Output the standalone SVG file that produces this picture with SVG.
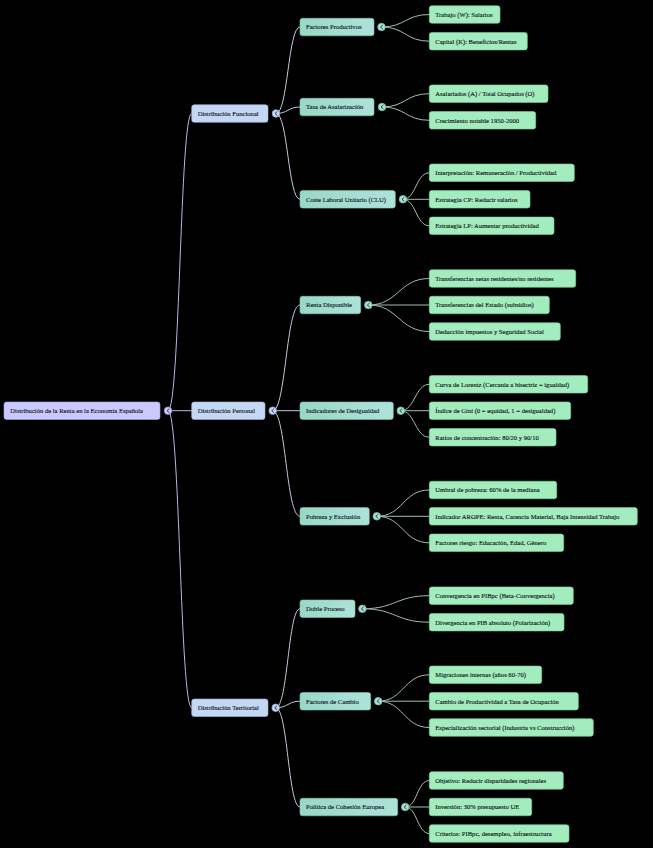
<svg xmlns="http://www.w3.org/2000/svg" width="653" height="848" viewBox="0 0 653 848">
<defs>
<linearGradient id="g2" x1="0" y1="0" x2="1" y2="0">
<stop offset="0" stop-color="#98d8c6"/>
<stop offset="1" stop-color="#aee2da"/>
</linearGradient>
<style>
text{font-family:"Liberation Serif","Times New Roman",serif;font-size:6.6px;fill:#111118;stroke:#111118;stroke-width:0.12}
.root rect{fill:#c9c9ff;stroke:#a6a6e6;stroke-width:0.6}
.l1 rect{fill:#c4d8f4;stroke:#9fb8dc;stroke-width:0.6}
.l2 rect{fill:url(#g2);stroke:#7cc4b2;stroke-width:0.6}
.leaf rect{fill:#a2ecbe;stroke:#7ed2a0;stroke-width:0.6}
.tg circle{stroke-width:0.8}
.root .tg circle{fill:#c9c9ff;stroke:#8f8fd0}
.l1 .tg circle{fill:#c4d8f4;stroke:#8aa6d0}
.l2 .tg circle{fill:#a8e0d4;stroke:#6fb8a6}
.tg path{fill:none;stroke:#2a2a3a;stroke-width:0.9;stroke-linecap:round;stroke-linejoin:round}
.e0{fill:none;stroke:#b6b9e4;stroke-width:1}
.e1{fill:none;stroke:#c3c8dc;stroke-width:1}
.e2{fill:none;stroke:#a2bdad;stroke-width:1}
</style>
</defs>
<rect x="0" y="0" width="653" height="848" fill="#000"/>

<g id="connectors">
<path class="e0" d="M168,410.7 C180,410.7 180,113.5 191.7,113.5"/>
<path class="e0" d="M168,410.7 L191.7,410.7"/>
<path class="e0" d="M168,410.7 C180,410.7 180,707.8 191.7,707.8"/>
<path class="e1" d="M276,113.5 C288,113.5 288,27 300,27"/>
<path class="e1" d="M276,113.5 C288,113.5 288,107 300,107"/>
<path class="e1" d="M276,113.5 C288,113.5 288,199.3 300,199.3"/>
<path class="e1" d="M272.7,410.7 C286,410.7 286,305 300,305"/>
<path class="e1" d="M272.7,410.7 L300,410.7"/>
<path class="e1" d="M272.7,410.7 C286,410.7 286,516.3 300,516.3"/>
<path class="e1" d="M275.7,707.8 C288,707.8 288,608.8 300,608.8"/>
<path class="e1" d="M275.7,707.8 C288,707.8 288,701.2 300,701.2"/>
<path class="e1" d="M275.7,707.8 C288,707.8 288,807 300,807"/>
<path class="e2" d="M381.5,27 C405.4,27 405.4,14.5 429.3,14.5"/>
<path class="e2" d="M381.5,27 C405.4,27 405.4,41.2 429.3,41.2"/>
<path class="e2" d="M382,107 C405.6,107 405.6,93.7 429.3,93.7"/>
<path class="e2" d="M382,107 C405.6,107 405.6,120.3 429.3,120.3"/>
<path class="e2" d="M403,199.3 C416,199.3 416,172.8 429.3,172.8"/>
<path class="e2" d="M403,199.3 L429.3,199.3"/>
<path class="e2" d="M403,199.3 C416,199.3 416,225.8 429.3,225.8"/>
<path class="e2" d="M368.3,305 C398.8,305 398.8,278.5 429.3,278.5"/>
<path class="e2" d="M368.3,305 L429.3,305"/>
<path class="e2" d="M368.3,305 C398.8,305 398.8,331.5 429.3,331.5"/>
<path class="e2" d="M400.8,410.7 C415,410.7 415,384.3 429.3,384.3"/>
<path class="e2" d="M400.8,410.7 L429.3,410.7"/>
<path class="e2" d="M400.8,410.7 C415,410.7 415,437.2 429.3,437.2"/>
<path class="e2" d="M376.8,516.3 C403,516.3 403,490 429.3,490"/>
<path class="e2" d="M376.8,516.3 L429.3,516.3"/>
<path class="e2" d="M376.8,516.3 C403,516.3 403,542.8 429.3,542.8"/>
<path class="e2" d="M362.4,608.8 C395.8,608.8 395.8,595.7 429.3,595.7"/>
<path class="e2" d="M362.4,608.8 C395.8,608.8 395.8,622.2 429.3,622.2"/>
<path class="e2" d="M378.2,701.2 C403.7,701.2 403.7,674.8 429.3,674.8"/>
<path class="e2" d="M378.2,701.2 L429.3,701.2"/>
<path class="e2" d="M378.2,701.2 C403.7,701.2 403.7,727.5 429.3,727.5"/>
<path class="e2" d="M405.2,807 C417.2,807 417.2,780.5 429.3,780.5"/>
<path class="e2" d="M405.2,807 L429.3,807"/>
<path class="e2" d="M405.2,807 C417.2,807 417.2,833.5 429.3,833.5"/>
</g>

<g id="root" class="root">
<rect x="4" y="402" width="156" height="17.5" rx="2.5"/>
<text x="10.3" y="413">Distribución de la Renta en la Economía Española</text>
<g class="tg"><circle cx="168" cy="410.7" r="3.8"/><path d="M169,409 L167,410.7 L169,412.4"/></g>
</g>

<g id="dist-funcional" class="l1">
<rect x="191.7" y="104.8" width="76.3" height="17.5" rx="2.5"/>
<text x="197.7" y="115.8">Distribución Funcional</text>
<g class="tg"><circle cx="276" cy="113.5" r="3.8"/><path d="M277,111.8 L275,113.5 L277,115.2"/></g>
</g>
<g id="dist-personal" class="l1">
<rect x="191.7" y="402" width="73.3" height="17.5" rx="2.5"/>
<text x="197.7" y="413">Distribución Personal</text>
<g class="tg"><circle cx="272.7" cy="410.7" r="3.8"/><path d="M273.7,409 L271.7,410.7 L273.7,412.4"/></g>
</g>
<g id="dist-territorial" class="l1">
<rect x="191.7" y="699" width="76.3" height="17.5" rx="2.5"/>
<text x="197.7" y="710.1">Distribución Territorial</text>
<g class="tg"><circle cx="275.7" cy="707.8" r="3.8"/><path d="M276.7,706.1 L274.7,707.8 L276.7,709.5"/></g>
</g>

<g id="factores-productivos" class="l2">
<rect x="300" y="18.3" width="74" height="17.5" rx="2.5"/>
<text x="306" y="29.3">Factores Productivos</text>
<g class="tg"><circle cx="381.5" cy="27" r="3.8"/><path d="M382.5,25.3 L380.5,27 L382.5,28.7"/></g>
</g>
<g id="tasa-asalarizacion" class="l2">
<rect x="300" y="98.3" width="74" height="17.5" rx="2.5"/>
<text x="306" y="109.3">Tasa de Asalarización</text>
<g class="tg"><circle cx="382" cy="107" r="3.8"/><path d="M383,105.3 L381,107 L383,108.7"/></g>
</g>
<g id="clu" class="l2">
<rect x="300" y="190.6" width="95.3" height="17.5" rx="2.5"/>
<text x="306" y="201.6">Coste Laboral Unitario (CLU)</text>
<g class="tg"><circle cx="403" cy="199.3" r="3.8"/><path d="M404,197.6 L402,199.3 L404,201"/></g>
</g>
<g id="renta-disponible" class="l2">
<rect x="300" y="296.3" width="60.7" height="17.5" rx="2.5"/>
<text x="306" y="307.3">Renta Disponible</text>
<g class="tg"><circle cx="368.3" cy="305" r="3.8"/><path d="M369.3,303.3 L367.3,305 L369.3,306.7"/></g>
</g>
<g id="indicadores" class="l2">
<rect x="300" y="402" width="93.3" height="17.5" rx="2.5"/>
<text x="306" y="413">Indicadores de Desigualdad</text>
<g class="tg"><circle cx="400.8" cy="410.7" r="3.8"/><path d="M401.8,409 L399.8,410.7 L401.8,412.4"/></g>
</g>
<g id="pobreza" class="l2">
<rect x="300" y="507.6" width="69.3" height="17.5" rx="2.5"/>
<text x="306" y="518.6">Pobreza y Exclusión</text>
<g class="tg"><circle cx="376.8" cy="516.3" r="3.8"/><path d="M377.8,514.6 L375.8,516.3 L377.8,518"/></g>
</g>
<g id="doble-proceso" class="l2">
<rect x="300" y="600" width="55" height="17.5" rx="2.5"/>
<text x="306" y="611.1">Doble Proceso</text>
<g class="tg"><circle cx="362.4" cy="608.8" r="3.8"/><path d="M363.4,607.1 L361.4,608.8 L363.4,610.5"/></g>
</g>
<g id="factores-cambio" class="l2">
<rect x="300" y="692.5" width="70.7" height="17.5" rx="2.5"/>
<text x="306" y="703.5">Factores de Cambio</text>
<g class="tg"><circle cx="378.2" cy="701.2" r="3.8"/><path d="M379.2,699.5 L377.2,701.2 L379.2,702.9"/></g>
</g>
<g id="politica-cohesion" class="l2">
<rect x="300" y="798.3" width="97.7" height="17.5" rx="2.5"/>
<text x="306" y="809.3">Política de Cohesión Europea</text>
<g class="tg"><circle cx="405.2" cy="807" r="3.8"/><path d="M406.2,805.3 L404.2,807 L406.2,808.7"/></g>
</g>

<g id="leaf-trabajo" class="leaf"><rect x="429.3" y="5.75" width="70.7" height="17.5" rx="2.5"/><text x="435.3" y="16.8">Trabajo (W): Salarios</text></g>
<g id="leaf-capital" class="leaf"><rect x="429.3" y="32.45" width="98" height="17.5" rx="2.5"/><text x="435.3" y="43.5">Capital (K): Beneficios/Rentas</text></g>
<g id="leaf-asalariados" class="leaf"><rect x="429.3" y="84.95" width="118.7" height="17.5" rx="2.5"/><text x="435.3" y="96">Asalariados (A) / Total Ocupados (O)</text></g>
<g id="leaf-crecimiento" class="leaf"><rect x="429.3" y="111.55" width="106.4" height="17.5" rx="2.5"/><text x="435.3" y="122.6">Crecimiento notable 1950-2000</text></g>
<g id="leaf-interpretacion" class="leaf"><rect x="429.3" y="164.05" width="145" height="17.5" rx="2.5"/><text x="435.3" y="175.1">Interpretación: Remuneración / Productividad</text></g>
<g id="leaf-cp" class="leaf"><rect x="429.3" y="190.55" width="100.7" height="17.5" rx="2.5"/><text x="435.3" y="201.6">Estrategia CP: Reducir salarios</text></g>
<g id="leaf-lp" class="leaf"><rect x="429.3" y="217.05" width="124.7" height="17.5" rx="2.5"/><text x="435.3" y="228.1">Estrategia LP: Aumentar productividad</text></g>
<g id="leaf-transf-netas" class="leaf"><rect x="429.3" y="269.75" width="146.4" height="17.5" rx="2.5"/><text x="435.3" y="280.8">Transferencias netas residentes/no residentes</text></g>
<g id="leaf-transf-estado" class="leaf"><rect x="429.3" y="296.25" width="120" height="17.5" rx="2.5"/><text x="435.3" y="307.3">Transferencias del Estado (subsidios)</text></g>
<g id="leaf-deduccion" class="leaf"><rect x="429.3" y="322.75" width="131" height="17.5" rx="2.5"/><text x="435.3" y="333.8">Deducción impuestos y Seguridad Social</text></g>
<g id="leaf-lorentz" class="leaf"><rect x="429.3" y="375.55" width="158.4" height="17.5" rx="2.5"/><text x="435.3" y="386.6">Curva de Lorentz (Cercanía a bisectriz = igualdad)</text></g>
<g id="leaf-gini" class="leaf"><rect x="429.3" y="401.95" width="141.4" height="17.5" rx="2.5"/><text x="435.3" y="413">Índice de Gini (0 = equidad, 1 = desigualdad)</text></g>
<g id="leaf-ratios" class="leaf"><rect x="429.3" y="428.45" width="126.7" height="17.5" rx="2.5"/><text x="435.3" y="439.5">Ratios de concentración: 80/20 y 90/10</text></g>
<g id="leaf-umbral" class="leaf"><rect x="429.3" y="481.25" width="127.4" height="17.5" rx="2.5"/><text x="435.3" y="492.3">Umbral de pobreza: 60% de la mediana</text></g>
<g id="leaf-arope" class="leaf"><rect x="429.3" y="507.55" width="208" height="17.5" rx="2.5"/><text x="435.3" y="518.6">Indicador AROPE: Renta, Carencia Material, Baja Intensidad Trabajo</text></g>
<g id="leaf-riesgo" class="leaf"><rect x="429.3" y="534.05" width="134.4" height="17.5" rx="2.5"/><text x="435.3" y="545.1">Factores riesgo: Educación, Edad, Género</text></g>
<g id="leaf-convergencia" class="leaf"><rect x="429.3" y="586.95" width="144" height="17.5" rx="2.5"/><text x="435.3" y="598">Convergencia en PIBpc (Beta-Convergencia)</text></g>
<g id="leaf-divergencia" class="leaf"><rect x="429.3" y="613.45" width="134.7" height="17.5" rx="2.5"/><text x="435.3" y="624.5">Divergencia en PIB absoluto (Polarización)</text></g>
<g id="leaf-migraciones" class="leaf"><rect x="429.3" y="666.05" width="112.4" height="17.5" rx="2.5"/><text x="435.3" y="677.1">Migraciones internas (años 60-70)</text></g>
<g id="leaf-cambio" class="leaf"><rect x="429.3" y="692.45" width="149" height="17.5" rx="2.5"/><text x="435.3" y="703.5">Cambio de Productividad a Tasa de Ocupación</text></g>
<g id="leaf-especializacion" class="leaf"><rect x="429.3" y="718.75" width="164" height="17.5" rx="2.5"/><text x="435.3" y="729.8">Especialización sectorial (Industria vs Construcción)</text></g>
<g id="leaf-objetivo" class="leaf"><rect x="429.3" y="771.75" width="134" height="17.5" rx="2.5"/><text x="435.3" y="782.8">Objetivo: Reducir disparidades regionales</text></g>
<g id="leaf-inversion" class="leaf"><rect x="429.3" y="798.25" width="102.4" height="17.5" rx="2.5"/><text x="435.3" y="809.3">Inversión: 30% presupuesto UE</text></g>
<g id="leaf-criterios" class="leaf"><rect x="429.3" y="824.75" width="139.7" height="17.5" rx="2.5"/><text x="435.3" y="835.8">Criterios: PIBpc, desempleo, infraestructura</text></g>
</svg>
